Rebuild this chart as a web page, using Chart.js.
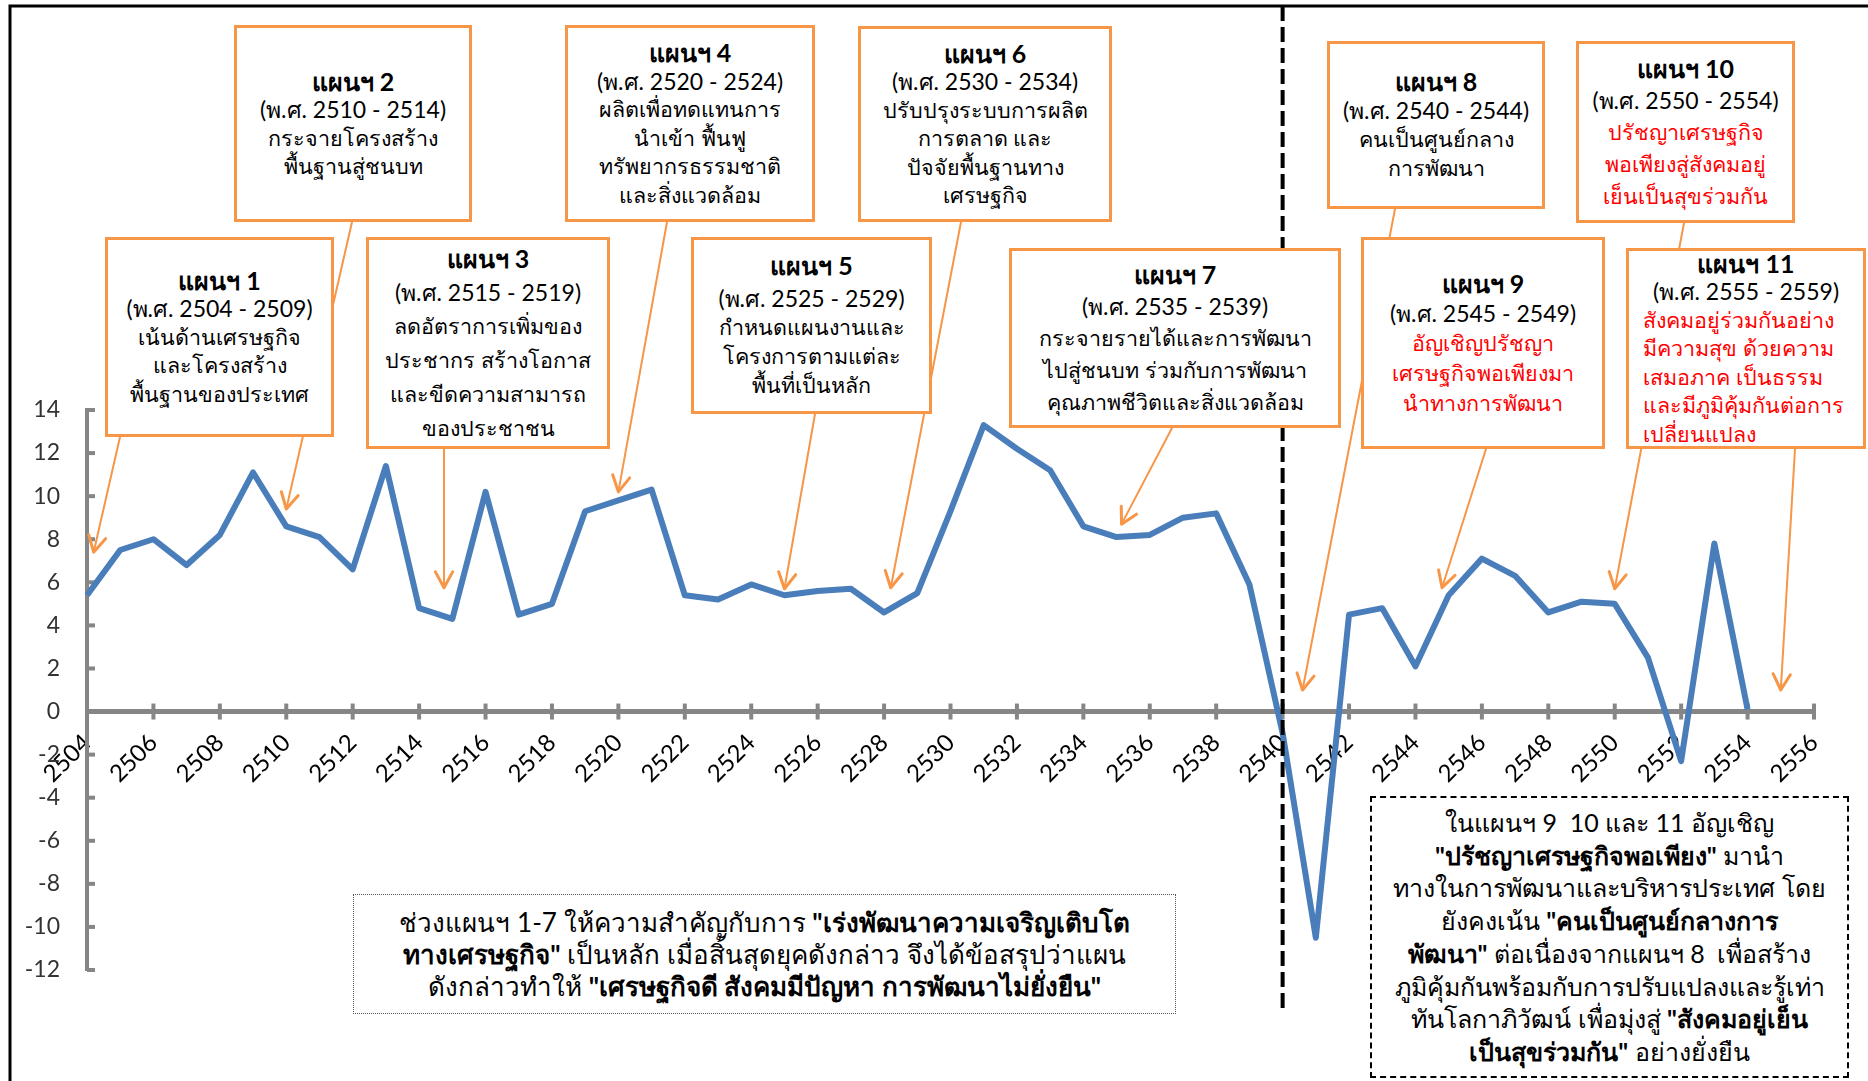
<!DOCTYPE html>
<html>
<head>
<meta charset="utf-8">
<script src="https://cdn.jsdelivr.net/npm/chart.js@4.4.1/dist/chart.umd.min.js"></script>
<style>
  body { margin: 0; background: #fff; }
  #wrap { position: relative; width: 1868px; height: 1081px; overflow: hidden; font-family: Lato, "Noto Sans", sans-serif; }
  #growth { position: absolute; left: 0; top: 0; }
  .plan { position: absolute; box-sizing: border-box; border: 3px solid #f79646; background: #fff;
          display: flex; flex-direction: column; justify-content: center; align-items: center;
          font-size: 21.5px; line-height: 28px; color: #000; white-space: nowrap; text-align: center; }
  .plan .t { font-weight: bold; font-size: 25px; }
  .plan .d { font-size: 23px; }
  .plan .red { color: #f00; }
  .plan .left { align-self: flex-start; padding-left: 14px; text-align: left; }
  .note { position: absolute; box-sizing: border-box; background: #fff; text-align: center;
          white-space: nowrap; color: #000; }
</style>
</head>
<body>
<div id="wrap">
  <canvas id="growth" width="1868" height="1081"></canvas>

  <div class="plan" style="left:105px;top:237px;width:229px;height:200px;line-height:28.5px">
    <div class="t">แผนฯ 1</div><div class="d">(พ.ศ. 2504 - 2509)</div><div>เน้นด้านเศรษฐกิจ</div><div>และโครงสร้าง</div><div>พื้นฐานของประเทศ</div>
  </div>
  <div class="plan" style="left:234px;top:25px;width:238px;height:197px;line-height:28.5px">
    <div class="t">แผนฯ 2</div><div class="d">(พ.ศ. 2510 - 2514)</div><div>กระจายโครงสร้าง</div><div>พื้นฐานสู่ชนบท</div>
  </div>
  <div class="plan" style="left:366px;top:237px;width:244px;height:212px;line-height:34px">
    <div class="t">แผนฯ 3</div><div class="d">(พ.ศ. 2515 - 2519)</div><div>ลดอัตราการเพิ่มของ</div><div>ประชากร สร้างโอกาส</div><div>และขีดความสามารถ</div><div>ของประชาชน</div>
  </div>
  <div class="plan" style="left:565px;top:25px;width:250px;height:197px;line-height:28.5px">
    <div class="t">แผนฯ 4</div><div class="d">(พ.ศ. 2520 - 2524)</div><div>ผลิตเพื่อทดแทนการ</div><div>นำเข้า ฟื้นฟู</div><div>ทรัพยากรธรรมชาติ</div><div>และสิ่งแวดล้อม</div>
  </div>
  <div class="plan" style="left:691px;top:237px;width:241px;height:177px;line-height:29px">
    <div class="t" style="margin-bottom:4px">แผนฯ 5</div><div class="d">(พ.ศ. 2525 - 2529)</div><div>กำหนดแผนงานและ</div><div>โครงการตามแต่ละ</div><div>พื้นที่เป็นหลัก</div>
  </div>
  <div class="plan" style="left:858px;top:26px;width:254px;height:196px;line-height:28.5px">
    <div class="t">แผนฯ 6</div><div class="d">(พ.ศ. 2530 - 2534)</div><div>ปรับปรุงระบบการผลิต</div><div>การตลาด และ</div><div>ปัจจัยพื้นฐานทาง</div><div>เศรษฐกิจ</div>
  </div>
  <div class="plan" style="left:1009px;top:248px;width:332px;height:180px;line-height:32px">
    <div class="t">แผนฯ 7</div><div class="d">(พ.ศ. 2535 - 2539)</div><div>กระจายรายได้และการพัฒนา</div><div>ไปสู่ชนบท ร่วมกับการพัฒนา</div><div>คุณภาพชีวิตและสิ่งแวดล้อม</div>
  </div>
  <div class="plan" style="left:1327px;top:41px;width:218px;height:168px;line-height:29px">
    <div class="t">แผนฯ 8</div><div class="d">(พ.ศ. 2540 - 2544)</div><div>คนเป็นศูนย์กลาง</div><div>การพัฒนา</div>
  </div>
  <div class="plan" style="left:1361px;top:237px;width:244px;height:212px;line-height:30px">
    <div class="t">แผนฯ 9</div><div class="d">(พ.ศ. 2545 - 2549)</div><div class="red">อัญเชิญปรัชญา</div><div class="red">เศรษฐกิจพอเพียงมา</div><div class="red">นำทางการพัฒนา</div>
  </div>
  <div class="plan" style="left:1576px;top:41px;width:219px;height:182px;line-height:32px">
    <div class="t">แผนฯ 10</div><div class="d">(พ.ศ. 2550 - 2554)</div><div class="red">ปรัชญาเศรษฐกิจ</div><div class="red">พอเพียงสู่สังคมอยู่</div><div class="red">เย็นเป็นสุขร่วมกัน</div>
  </div>
  <div class="plan" style="left:1626px;top:248px;width:240px;height:201px;line-height:28.5px">
    <div class="t">แผนฯ 11</div><div class="d">(พ.ศ. 2555 - 2559)</div>
    <div class="red left">สังคมอยู่ร่วมกันอย่าง</div><div class="red left">มีความสุข ด้วยความ</div><div class="red left">เสมอภาค เป็นธรรม</div><div class="red left">และมีภูมิคุ้มกันต่อการ</div><div class="red left">เปลี่ยนแปลง</div>
  </div>

  <div class="note" style="left:353px;top:894px;width:823px;height:120px;border:1px dotted #555;font-size:26px;line-height:32px;padding-top:11px">
    ช่วงแผนฯ 1-7 ให้ความสำคัญกับการ <b>"เร่งพัฒนาความเจริญเติบโต</b><br>
    <b>ทางเศรษฐกิจ"</b> เป็นหลัก เมื่อสิ้นสุดยุคดังกล่าว จึงได้ข้อสรุปว่าแผน<br>
    ดังกล่าวทำให้ <b>"เศรษฐกิจดี สังคมมีปัญหา การพัฒนาไม่ยั่งยืน"</b>
  </div>
  <div class="note" style="left:1370px;top:796px;width:479px;height:282px;border:2px dashed #000;font-size:25px;line-height:32.7px;padding-top:8px">
    ในแผนฯ 9&nbsp; 10 และ 11 อัญเชิญ<br>
    <b>"ปรัชญาเศรษฐกิจพอเพียง"</b> มานำ<br>
    ทางในการพัฒนาและบริหารประเทศ โดย<br>
    ยังคงเน้น <b>"คนเป็นศูนย์กลางการ</b><br>
    <b>พัฒนา"</b> ต่อเนื่องจากแผนฯ 8&nbsp; เพื่อสร้าง<br>
    ภูมิคุ้มกันพร้อมกับการปรับแปลงและรู้เท่า<br>
    ทันโลกาภิวัฒน์ เพื่อมุ่งสู่ <b>"สังคมอยู่เย็น</b><br>
    <b>เป็นสุขร่วมกัน"</b> อย่างยั่งยืน
  </div>
</div>

<script>
// พ.ศ. years on the category axis
const years = [2504, 2505, 2506, 2507, 2508, 2509, 2510, 2511, 2512, 2513,
  2514, 2515, 2516, 2517, 2518, 2519, 2520, 2521, 2522, 2523,
  2524, 2525, 2526, 2527, 2528, 2529, 2530, 2531, 2532, 2533,
  2534, 2535, 2536, 2537, 2538, 2539, 2540, 2541, 2542, 2543,
  2544, 2545, 2546, 2547, 2548, 2549, 2550, 2551, 2552, 2553,
  2554, 2555, 2556];

// growth rate (%), nothing after 2554
const growth = [5.4, 7.5, 8.0, 6.8, 8.2, 11.1, 8.6, 8.1, 6.6, 11.4,
  4.8, 4.3, 10.2, 4.5, 5.0, 9.3, 9.8, 10.3, 5.4, 5.2,
  5.9, 5.4, 5.6, 5.7, 4.6, 5.5, 9.3, 13.3, 12.2, 11.2,
  8.6, 8.1, 8.2, 9.0, 9.2, 5.9, -1.0, -10.5, 4.5, 4.8,
  2.1, 5.4, 7.1, 6.3, 4.6, 5.1, 5.0, 2.5, -2.3, 7.8,
  0.1, null, null];

const yMin = -12, yMax = 14, yStep = 2;

// year where the dashed divider stands (start of plan 8)
const dividerYear = 2540;

// callout arrows: where each one leaves its box (px) and the [year, value] it points at
const arrowFrom = [[120, 437], [352, 222], [444, 449], [667, 222], [815, 414], [961, 222],
  [1172, 428], [1395, 209], [1486, 449], [1684, 223], [1795, 449]];
const arrowTo = [[2504.2, 7.4], [2510, 9.4], [2514.75, 5.75], [2520, 10.2], [2525, 5.7], [2528.2, 5.75],
  [2535.15, 8.7], [2540.6, 1.0], [2544.8, 5.75], [2550, 5.7], [2555, 1.0]];

const AXIS = '#868686';
const ORANGE = '#f79646';

function drawArrow(c, x0, y0, x1, y1) {
  const a = Math.atan2(y1 - y0, x1 - x0);
  c.lineWidth = 2;
  c.beginPath(); c.moveTo(x0, y0); c.lineTo(x1, y1); c.stroke();
  c.lineWidth = 3;
  c.beginPath();
  c.moveTo(x1 - 18 * Math.cos(a - 0.5), y1 - 18 * Math.sin(a - 0.5));
  c.lineTo(x1, y1);
  c.lineTo(x1 - 18 * Math.cos(a + 0.5), y1 - 18 * Math.sin(a + 0.5));
  c.stroke();
}

const decor = {
  id: 'decor',
  beforeDraw(chart) {
    const c = chart.ctx;
    c.save();
    c.strokeStyle = '#000'; c.lineWidth = 3;
    c.beginPath(); c.moveTo(10, 1081); c.lineTo(10, 6); c.lineTo(1868, 6); c.stroke();
    c.restore();
  },
  beforeDatasetsDraw(chart) {
    const c = chart.ctx, xs = chart.scales.x, ys = chart.scales.y;
    const y0 = ys.getPixelForValue(0), left = chart.chartArea.left;
    c.save();
    c.strokeStyle = AXIS; c.lineWidth = 4;
    years.forEach((yr, i) => {
      if (i % 2) return;
      const x = xs.getPixelForValue(i);
      c.beginPath(); c.moveTo(x, y0 - 8); c.lineTo(x, y0 + 8); c.stroke();
    });
    for (let v = yMin; v <= yMax; v += yStep) {
      const y = ys.getPixelForValue(v);
      c.beginPath(); c.moveTo(left, y); c.lineTo(left + 8, y); c.stroke();
    }
    c.restore();
  },
  afterDatasetsDraw(chart) {
    const c = chart.ctx, xs = chart.scales.x, ys = chart.scales.y;
    c.save();
    const xd = xs.getPixelForValue(dividerYear - years[0]);
    c.strokeStyle = '#000'; c.lineWidth = 4; c.setLineDash([15, 6]);
    c.beginPath(); c.moveTo(xd, 6); c.lineTo(xd, 1014); c.stroke();
    c.setLineDash([]);
    c.strokeStyle = ORANGE; c.lineCap = 'round'; c.lineJoin = 'round';
    arrowTo.forEach(([yr, v], i) => {
      const [x0, y0] = arrowFrom[i];
      drawArrow(c, x0, y0, xs.getPixelForValue(yr - years[0]), ys.getPixelForValue(v));
    });
    c.restore();
  }
};

new Chart(document.getElementById('growth'), {
  type: 'line',
  data: {
    labels: years,
    datasets: [{
      data: growth,
      borderColor: '#4a7ebb',
      borderWidth: 6,
      borderJoinStyle: 'round',
      pointRadius: 0,
      tension: 0,
      fill: false
    }]
  },
  options: {
    responsive: false,
    animation: false,
    devicePixelRatio: 1,
    layout: { padding: { left: 0, top: 410, right: 54, bottom: 111 } },
    plugins: { legend: { display: false }, tooltip: { enabled: false } },
    scales: {
      x: {
        position: { y: 0 },
        offset: false,
        grid: { display: false, drawTicks: false },
        border: { color: AXIS, width: 5 },
        ticks: {
          autoSkip: false, maxRotation: 45, minRotation: 45, padding: 17,
          color: '#000', font: { family: 'Lato', size: 24 },
          callback: (v, i) => (i % 2 === 0 ? String(years[i]) : '')
        }
      },
      y: {
        min: yMin, max: yMax,
        grid: { display: false, drawTicks: false },
        border: { color: AXIS, width: 4 },
        ticks: { stepSize: yStep, padding: 27, color: '#333', font: { family: 'Lato', size: 23 } },
        afterFit: s => { s.width = 87; }
      }
    }
  },
  plugins: [decor]
});
</script>
</body>
</html>
